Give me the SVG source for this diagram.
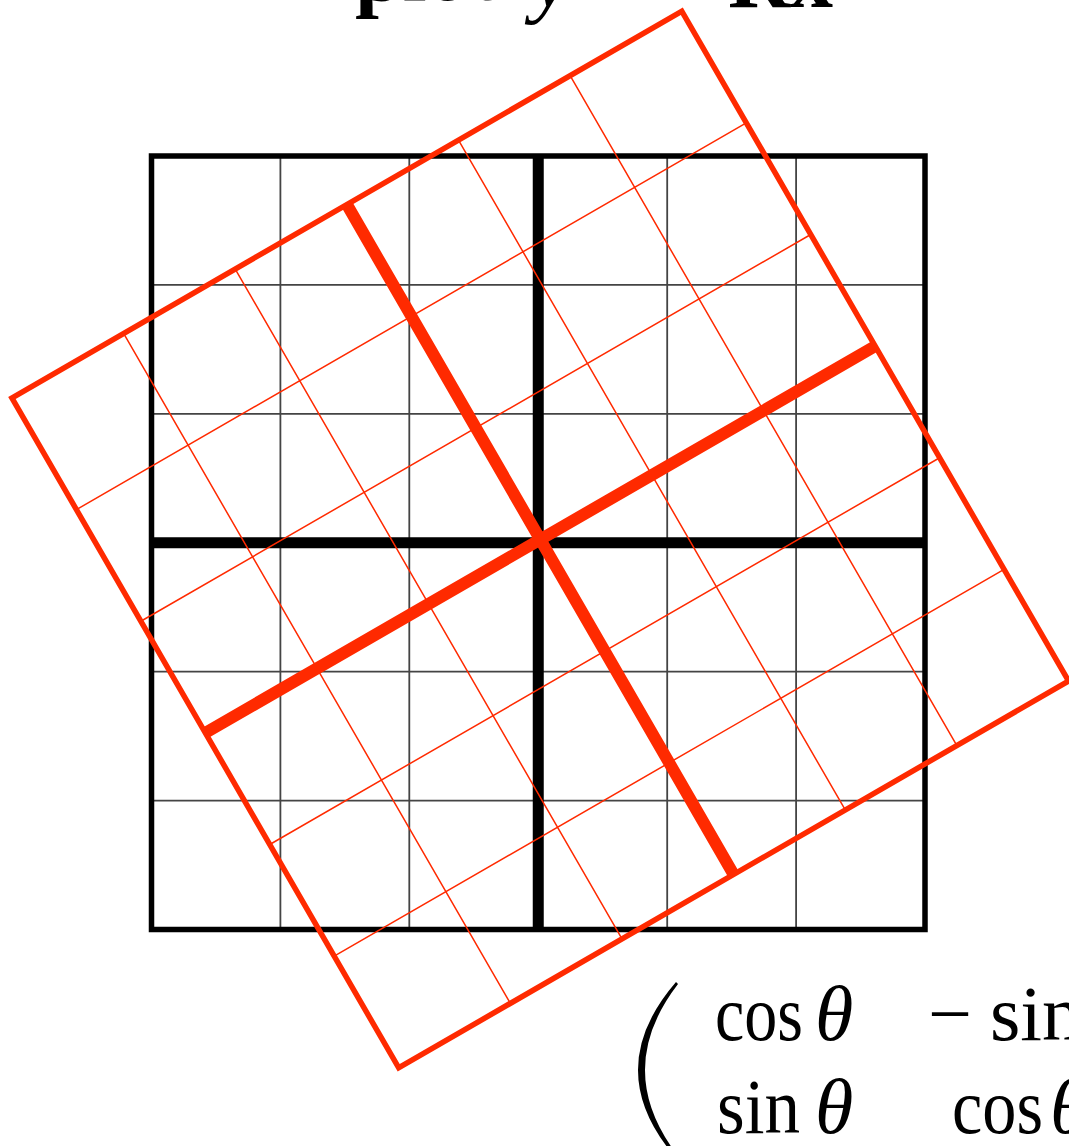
<svg xmlns="http://www.w3.org/2000/svg" width="1069" height="1146" viewBox="0 0 1069 1146">
<style>
.bthin{stroke:#444;stroke-width:1.8;fill:none}
.bthick{stroke:#000;stroke-width:11;fill:none}
.bframe{stroke:#000;stroke-width:5.5;fill:none}
.rthin{stroke:#ff2a00;stroke-width:1.5;fill:none}
.rthick{stroke:#ff2a00;stroke-width:12;fill:none}
.rframe{stroke:#ff2a00;stroke-width:5.5;fill:none}
text{font-family:"Liberation Serif","DejaVu Serif",serif;fill:#000}
.m{font-size:78px}
.it{font-style:italic}
</style>
<rect x="0" y="0" width="1069" height="1146" fill="#fff"/>
<g id="title">
<text font-size="86"><tspan x="355" y="0" font-weight="bold">plot</tspan><tspan x="532" y="6" font-style="italic">y</tspan><tspan x="625" y="6">=</tspan><tspan x="728" y="7" font-weight="bold">Rx</tspan></text>
</g>
<g id="black-grid">
<path class="bthin" d="M280.4 156V929.5M409.3 156V929.5M667.2 156V929.5M796.1 156V929.5M151.5 284.9H925M151.5 413.8H925M151.5 671.7H925M151.5 800.6H925"/>
<path class="bthick" d="M538.25 156V929.5M151.5 542.75H925"/>
<rect class="bframe" x="151.5" y="156" width="773.5" height="773.5"/>
</g>
<g id="red-grid" transform="translate(540.25 539.5) rotate(-30)">
<path class="rthin" d="M-257.8 -386.75V386.75M-128.9 -386.75V386.75M128.9 -386.75V386.75M257.8 -386.75V386.75M-386.75 -257.8H386.75M-386.75 -128.9H386.75M-386.75 128.9H386.75M-386.75 257.8H386.75"/>
<path class="rthick" d="M0 -386.75V386.75M-386.75 0H386.75"/>
<rect class="rframe" x="-386.75" y="-386.75" width="773.5" height="773.5"/>
</g>
<g id="matrix">
<path d="M676 982 Q638 1026 638 1070 Q638 1114 676 1158 L678 1156 Q645 1113 645 1070 Q645 1027 678 984 Z" fill="#000"/>
<text class="m" x="715" y="1040" textLength="88" lengthAdjust="spacingAndGlyphs">cos</text>
<text class="m it" x="815" y="1040">θ</text>
<text class="m" x="928" y="1040">−</text>
<text class="m" x="990" y="1040">sin</text>
<text class="m" x="717" y="1133" textLength="83" lengthAdjust="spacingAndGlyphs">sin</text>
<text class="m it" x="815" y="1133">θ</text>
<text class="m" x="952" y="1133" textLength="91" lengthAdjust="spacingAndGlyphs">cos</text>
<text class="m it" x="1050" y="1133">θ</text>
</g>
</svg>
